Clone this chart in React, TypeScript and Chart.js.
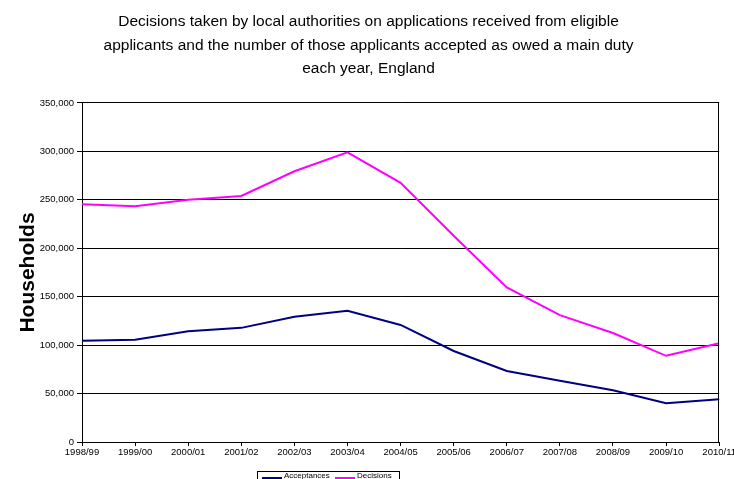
import React, { useEffect, useRef } from "react";
import { Chart, registerables } from "chart.js";

Chart.register(...registerables);

const categories = [
  "1998/99", "1999/00", "2000/01", "2001/02", "2002/03", "2003/04", "2004/05",
  "2005/06", "2006/07", "2007/08", "2008/09", "2009/10", "2010/11",
];
const acceptances = [104630, 105580, 114350, 117830, 129320, 135430, 120860, 93980, 73360, 63170, 53430, 40020, 44160];
const decisions = [245500, 243500, 250000, 254000, 279500, 299000, 267500, 213000, 159500, 131000, 112500, 89000, 102000];
const titleLines = [
  "Decisions taken by local authorities on applications received from eligible",
  "applicants and the number of those applicants accepted as owed a main duty",
  "each year, England",
];
const yTitle = "Households";

const FONT = "'Liberation Sans', Arial, sans-serif";

const frameAndLegend = {
  id: "frameAndLegend",
  afterDraw(chart: any) {
    const { ctx, chartArea } = chart;
    ctx.save();
    // right border of plot area
    ctx.strokeStyle = "#000";
    ctx.lineWidth = 1;
    ctx.beginPath();
    ctx.moveTo(Math.round(chartArea.right) - 0.5, chartArea.top);
    ctx.lineTo(Math.round(chartArea.right) - 0.5, chartArea.bottom);
    ctx.stroke();

    // legend box
    const bx = 257.5, by = 471.5, bw = 142, bh = 22;
    ctx.strokeStyle = "#000";
    ctx.lineWidth = 1;
    ctx.strokeRect(bx, by, bw, bh);
    const items = [
      { x1: 262, x2: 282, tx: 284 },
      { x1: 335, x2: 355, tx: 357 },
    ];
    const ly = 478;
    ctx.font = `8px ${FONT}`;
    ctx.textBaseline = "middle";
    ctx.textAlign = "left";
    chart.data.datasets.forEach((ds: any, i: number) => {
      const it = items[i];
      ctx.strokeStyle = ds.borderColor;
      ctx.lineWidth = 2;
      ctx.beginPath();
      ctx.moveTo(it.x1, ly);
      ctx.lineTo(it.x2, ly);
      ctx.stroke();
      ctx.fillStyle = "#000";
      ctx.fillText(ds.label, it.tx, ly - 2);
    });
    ctx.restore();
  },
};

export default function App() {
  const ref = useRef<HTMLCanvasElement | null>(null);
  useEffect(() => {
    if (!ref.current) return;
    const chart = new Chart(ref.current, {
      type: "line",
      data: {
        labels: categories,
        datasets: [
          {
            label: "Acceptances",
            data: acceptances,
            borderColor: "#000080",
            backgroundColor: "#000080",
            borderWidth: 2,
            pointRadius: 0,
            tension: 0,
          },
          {
            label: "Decisions",
            data: decisions,
            borderColor: "#FF00FF",
            backgroundColor: "#FF00FF",
            borderWidth: 2,
            pointRadius: 0,
            tension: 0,
          },
        ],
      },
      options: {
        responsive: false,
        animation: false,
        devicePixelRatio: 1,
        layout: { padding: { left: 0, right: 0, top: 0, bottom: 38 } },
        plugins: {
          legend: { display: false },
          tooltip: { enabled: false },
          title: {
            display: true,
            text: titleLines,
            color: "#000",
            font: { family: FONT, size: 15.5, weight: "normal", lineHeight: 1.516 },
            padding: { top: 10, bottom: 22.5 },
          },
        },
        scales: {
          x: {
            type: "category",
            offset: false,
            afterFit: (s: any) => { s.height = 20; },
            grid: { display: true, drawOnChartArea: false, drawTicks: true, tickLength: 4, color: "#000" },
            border: { display: true, color: "#000", width: 1 },
            ticks: {
              color: "#000",
              font: { family: FONT, size: 9.5 },
              padding: 1,
              maxRotation: 0,
              minRotation: 0,
              autoSkip: false,
            },
          },
          y: {
            min: 0,
            max: 350000,
            afterFit: (s: any) => { s.width = 82; },
            grid: { color: "#000", lineWidth: 1, tickLength: 5, drawTicks: true },
            border: { display: true, color: "#000", width: 1 },
            ticks: {
              stepSize: 50000,
              color: "#000",
              font: { family: FONT, size: 9.5 },
              padding: 3,
              callback: (v: any) => Number(v).toLocaleString("en-US"),
            },
            title: {
              display: true,
              text: yTitle,
              color: "#000",
              font: { family: FONT, size: 21, weight: "bold" },
              padding: { top: 16, bottom: 0 },
            },
          },
        },
      },
      plugins: [frameAndLegend],
    });
    return () => chart.destroy();
  }, []);
  return (
    <div style={{ position: "fixed", left: 0, top: 0, width: 734, height: 500, overflow: "hidden", background: "#fff" }}>
      <canvas ref={ref} width={737} height={500} style={{ display: "block" }} />
    </div>
  );
}
